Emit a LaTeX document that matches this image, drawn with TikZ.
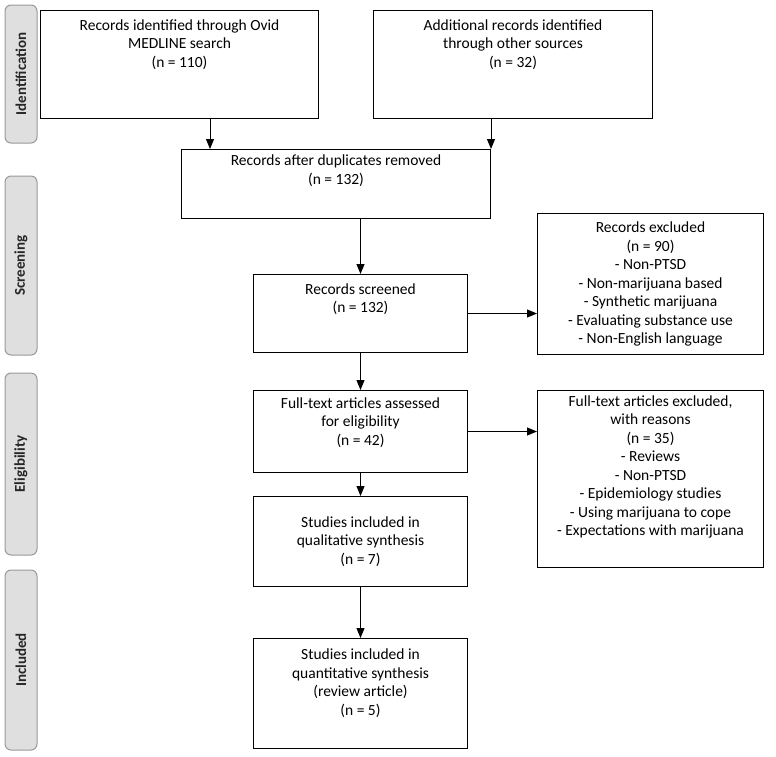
\documentclass[tikz,border=0pt]{standalone}
\usepackage{fontspec}
\usetikzlibrary{arrows.meta}
\setmainfont{Carlito}
\begin{document}
\begin{tikzpicture}[x=1pt,y=-1pt,
  box/.style={draw,line width=1pt,align=center,font=\fontsize{15.5}{18.5}\selectfont,inner sep=0pt},
  side/.style={draw=gray!80,fill=gray!25,rounded corners=6pt,line width=1pt},
  sidetxt/.style={rotate=90,font=\fontsize{15}{18}\selectfont\bfseries,text=black!85},
  arr/.style={-{Triangle[length=10pt,width=8pt]},line width=1pt}]
\useasboundingbox (0,0) rectangle (776,756);
% side labels
\draw[side] (5,5) rectangle (37,143) node[midway,sidetxt] (sl1) {Identification};
\draw[side] (5,176) rectangle (37,355) node[midway,sidetxt] (sl2) {Screening};
\draw[side] (5,373) rectangle (37,555) node[midway,sidetxt] (sl3) {Eligibility};
\draw[side] (5,570) rectangle (37,750) node[midway,sidetxt] (sl4) {Included};
% boxes
\node[box,minimum width=278pt,minimum height=108pt,anchor=north west] (b1) at (40,10) {Records identified through Ovid\\MEDLINE search\\(n = 110)\\[24pt]};
\node[box,minimum width=279pt,minimum height=108pt,anchor=north west] (b2) at (373,10) {Additional records identified\\through other sources\\(n = 32)\\[24pt]};
\node[box,minimum width=309pt,minimum height=69pt,anchor=north west] (b3) at (181,149) {Records after duplicates removed\\(n = 132)\\[10pt]};
\node[box,minimum width=214pt,minimum height=78pt,anchor=north west] (b4) at (253,274) {Records screened\\(n = 132)\\[12pt]};
\node[box,minimum width=226pt,minimum height=141pt,anchor=north west] (b5) at (537,213) {Records excluded\\(n = 90)\\- Non-PTSD\\- Non-marijuana based\\- Synthetic marijuana\\- Evaluating substance use\\- Non-English language};
\node[box,minimum width=214pt,minimum height=82pt,anchor=north west] (b6) at (253,390) {Full-text articles assessed\\for eligibility\\(n = 42)\\[2pt]};
\node[box,minimum width=226pt,minimum height=177pt,anchor=north west] (b7) at (537,390) {Full-text articles excluded,\\with reasons\\(n = 35)\\- Reviews\\- Non-PTSD\\- Epidemiology studies\\- Using marijuana to cope\\- Expectations with marijuana\\[8pt]};
\node[box,minimum width=214pt,minimum height=90pt,anchor=north west] (b8) at (253,496) {Studies included in\\qualitative synthesis\\(n = 7)};
\node[box,minimum width=214pt,minimum height=110pt,anchor=north west] (b9) at (253,638) {Studies included in\\quantitative synthesis\\(review article)\\(n = 5)\\[4pt]};
% arrows
\coordinate (a1) at (210,118);
\coordinate (a2) at (491,118);
\draw[arr] (a1) -- (a1 |- b3.north);
\draw[arr] (a2) -- (a2 |- b3.north);
\draw[arr] (b3.south -| b4.north) -- (b4.north);
\draw[arr] (b4.east) -- (b4.east -| b5.west);
\draw[arr] (b4.south) -- (b6.north);
\draw[arr] (b6.east) -- (b6.east -| b7.west);
\draw[arr] (b6.south) -- (b8.north);
\draw[arr] (b8.south) -- (b9.north);
\end{tikzpicture}
\end{document}
